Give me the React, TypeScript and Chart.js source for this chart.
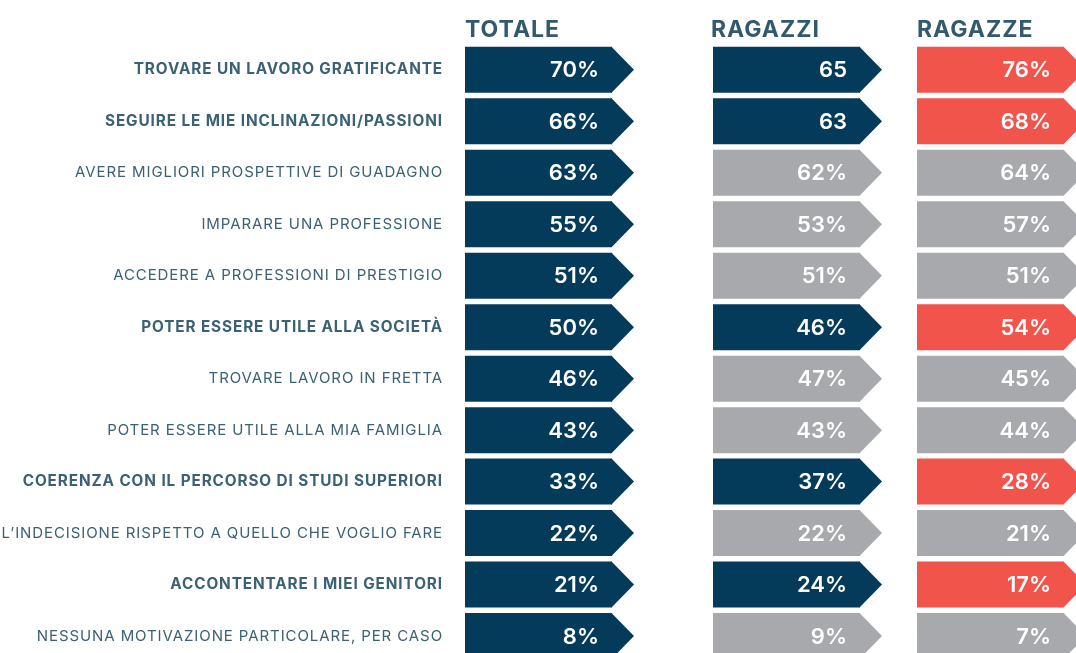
import React, { useEffect, useRef } from "react";
import { Chart, registerables } from "chart.js";

Chart.register(...registerables);

const categories = [
  "TROVARE UN LAVORO GRATIFICANTE",
  "SEGUIRE LE MIE INCLINAZIONI/PASSIONI",
  "AVERE MIGLIORI PROSPETTIVE DI GUADAGNO",
  "IMPARARE UNA PROFESSIONE",
  "ACCEDERE A PROFESSIONI DI PRESTIGIO",
  "POTER ESSERE UTILE ALLA SOCIETÀ",
  "TROVARE LAVORO IN FRETTA",
  "POTER ESSERE UTILE ALLA MIA FAMIGLIA",
  "COERENZA CON IL PERCORSO DI STUDI SUPERIORI",
  "L’INDECISIONE RISPETTO A QUELLO CHE VOGLIO FARE",
  "ACCONTENTARE I MIEI GENITORI",
  "NESSUNA MOTIVAZIONE PARTICOLARE, PER CASO",
];

const totale = [70, 66, 63, 55, 51, 50, 46, 43, 33, 22, 21, 8];
const ragazzi = [65, 63, 62, 53, 51, 46, 47, 43, 37, 22, 24, 9];
const ragazze = [76, 68, 64, 57, 51, 54, 45, 44, 28, 21, 17, 7];
const ragazziPercentSign = [false, false, true, true, true, true, true, true, true, true, true, true];
const highlighted = [true, true, false, false, false, true, false, false, true, false, true, false];

const columnTitles = ["TOTALE", "RAGAZZI", "RAGAZZE"];

// layout (x-scale units = pixels from plot left)
const COL_STARTS = [0, 248, 452];
const COL_WIDTH = 147;
const TIP = 22;
const NAVY = "#053b5a";
const RED = "#f0544b";
const GRAY = "#a8a9ac";
const LABEL_COLOR = "#3a6174";
const HEADER_COLOR = "#33596c";

export default function App() {
  const ref = useRef<HTMLCanvasElement | null>(null);

  useEffect(() => {
    document.body.style.margin = "0";
    document.body.style.overflow = "hidden";
    const canvas = ref.current;
    if (!canvas) return;

    const valueSets = [totale, ragazzi, ragazze];
    const fmt = [
      (i: number) => `${totale[i]}%`,
      (i: number) => `${ragazzi[i]}${ragazziPercentSign[i] ? "%" : ""}`,
      (i: number) => `${ragazze[i]}%`,
    ];
    const colors = [
      categories.map(() => NAVY),
      categories.map((_, i) => (highlighted[i] ? NAVY : GRAY)),
      categories.map((_, i) => (highlighted[i] ? RED : GRAY)),
    ];

    const arrowPlugin = {
      id: "arrows",
      beforeDraw(chart: any) {
        (chart.ctx as any).letterSpacing = "0.9px";
      },
      afterDatasetsDraw(chart: any) {
        const ctx = chart.ctx;
        ctx.save();
        (ctx as any).letterSpacing = "0px";
        chart.data.datasets.forEach((ds: any, di: number) => {
          const meta = chart.getDatasetMeta(di);
          meta.data.forEach((el: any, i: number) => {
            const h = el.height;
            const x = el.x;
            const y = el.y;
            ctx.fillStyle = colors[di][i];
            ctx.beginPath();
            ctx.moveTo(x - 0.5, y - h / 2);
            ctx.lineTo(x + TIP, y);
            ctx.lineTo(x - 0.5, y + h / 2);
            ctx.closePath();
            ctx.fill();
            ctx.fillStyle = "#ffffff";
            ctx.font = "600 22px Inter";
            ctx.textAlign = "right";
            ctx.textBaseline = "middle";
            ctx.fillText(fmt[di](i), x - 13, y + 1);
          });
        });
        // column headers
        const xs = chart.scales.x;
        ctx.fillStyle = HEADER_COLOR;
        ctx.font = "700 23px Inter";
        (ctx as any).letterSpacing = "1px";
        ctx.textAlign = "left";
        ctx.textBaseline = "alphabetic";
        columnTitles.forEach((t, i) => {
          ctx.fillText(t, xs.getPixelForValue(COL_STARTS[i]) - (i === 1 ? 2 : 0), 37);
        });
        ctx.restore();
      },
    };

    const chart = new Chart(canvas, {
      type: "bar",
      data: {
        labels: categories,
        datasets: valueSets.map((vals, di) => ({
          label: columnTitles[di],
          data: vals.map(() => [COL_STARTS[di], COL_STARTS[di] + COL_WIDTH]) as any,
          backgroundColor: colors[di],
          borderWidth: 0,
          inflateAmount: 0,
          barThickness: 46,
          grouped: false,
        })),
      },
      options: {
        indexAxis: "y",
        responsive: false,
        animation: false,
        layout: { padding: { top: 44, left: 0, right: 0, bottom: 0 } },
        plugins: { legend: { display: false }, tooltip: { enabled: false } },
        scales: {
          x: { type: "linear", min: 0, max: 611, display: false },
          y: {
            type: "category",
            grid: { display: false, drawTicks: false },
            border: { display: false },
            afterFit: (scale: any) => {
              scale.width = 465;
            },
            ticks: {
              padding: 22,
              color: LABEL_COLOR,
              font: (c: any) => ({
                family: "Inter",
                size: highlighted[c.index] ? 15.3 : 15,
                weight: highlighted[c.index] ? "700" : "400",
              }),
            },
          },
        },
      },
      plugins: [arrowPlugin],
    });

    return () => chart.destroy();
  }, []);

  return (
    <div style={{ width: 1076, height: 653, overflow: "hidden", background: "#fff" }}>
      <canvas ref={ref} width={1076} height={693} style={{ display: "block", width: 1076, height: 693 }} />
    </div>
  );
}
